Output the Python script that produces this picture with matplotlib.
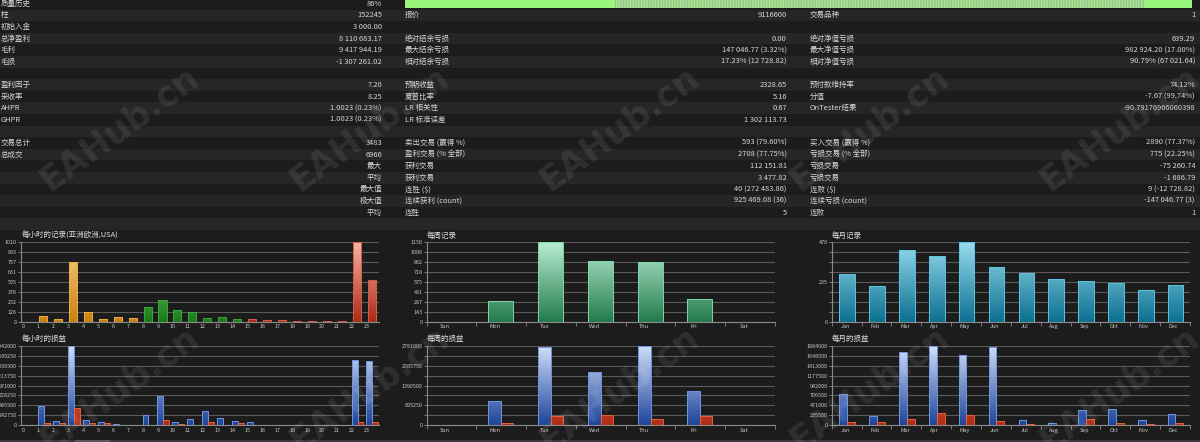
import numpy as np
import matplotlib
matplotlib.use("Agg")
import matplotlib.pyplot as plt
from matplotlib.colors import LinearSegmentedColormap
from matplotlib.patches import Rectangle

plt.rcParams['font.family'] = ['Noto Sans CJK SC', 'DejaVu Sans']

# ---------------- data ----------------
left_labels = ['质量历史', '柱', '初始入金', '总净盈利', '毛利', '毛损', '', '盈利因子', '采收率', 'AHPR', 'GHPR', '',
               '交易总计', '总成交', '', '', '', '', '']
left_values = ['86%', '152245', '3 000.00', '8 110 683.17', '9 417 944.19', '-1 307 261.02', '', '7.20', '8.25',
               '1.0023 (0.23%)', '1.0023 (0.23%)', '', '3483', '6966', '最大', '平均', '最大值', '极大值', '平均']
mid_labels = ['', '报价', '', '绝对结余亏损', '最大结余亏损', '相对结余亏损', '', '预期收益', '夏普比率', 'LR 相关性',
              'LR 标准误差', '', '卖出交易 (赢得 %)', '盈利交易 (% 全部)', '获利交易', '获利交易', '连胜 ($)',
              '连续获利 (count)', '连胜']
mid_values = ['', '9116600', '', '0.00', '147 046.77 (3.32%)', '17.23% (12 728.82)', '', '2328.65', '5.16', '0.67',
              '1 302 113.73', '', '593 (79.60%)', '2708 (77.75%)', '112 151.81', '3 477.82', '40 (272 483.86)',
              '925 469.08 (36)', '5']
right_labels = ['', '交易品种', '', '绝对净值亏损', '最大净值亏损', '相对净值亏损', '', '预付款维持率', '分值',
                'OnTester结果', '', '', '买入交易 (赢得 %)', '亏损交易 (% 全部)', '亏损交易', '亏损交易', '连败 ($)',
                '连续亏损 (count)', '连败']
right_values = ['', '1', '', '639.29', '982 924.20 (17.00%)', '90.79% (67 021.64)', '', '74.12%', '-7.67 (99.74%)',
                '-90.79176966060398', '', '', '2890 (77.37%)', '775 (22.25%)', '-75 260.74', '-1 686.79',
                '9 (-12 728.82)', '-147 046.77 (3)', '1']

hours = [str(h) for h in range(24)]
hour_session = ['asia'] * 8 + ['europe'] * 7 + ['usa'] * 9
hourly_trades = [0, 70, 30, 755, 122, 29, 59, 42, 185, 274, 143, 126, 46, 55, 29, 34, 21, 17, 8, 6, 6, 6, 1010, 526]
hourly_profit = [0, 463000, 97000, 1942000, 122000, 73000, 24000, 8000, 244000, 715000, 89000, 146000, 349000,
                 171000, 97000, 73000, 16000, 8000, 8000, 3000, 3000, 16000, 1601000, 1568000]
hourly_loss = [0, 49000, 65000, 423000, 49000, 49000, 8000, 2000, 3000, 130000, 33000, 8000, 73000, 8000, 49000,
               16000, 8000, 8000, 8000, 8000, 8000, 8000, 73000, 81000]

weekdays = ['Sun', 'Mon', 'Tue', 'Wed', 'Thu', 'Fri', 'Sat']
weekly_trades = [0, 300, 1150, 872, 862, 331, 0]
weekly_profit = [0, 849000, 2723000, 1850000, 2781000, 1210000, 0]
weekly_loss = [0, 93000, 326000, 361000, 209000, 314000, 0]

months = ['Jan', 'Feb', 'Mar', 'Apr', 'May', 'Jun', 'Jul', 'Aug', 'Sep', 'Oct', 'Nov', 'Dec']
monthly_trades = [280, 208, 425, 390, 470, 321, 286, 249, 239, 227, 188, 217]
monthly_profit = [741000, 213000, 1726000, 1884000, 1655000, 1852000, 126000, 47000, 370000, 386000, 134000, 268000]
monthly_loss = [71000, 71000, 158000, 284000, 236000, 95000, 24000, 8000, 158000, 63000, 32000, 47000]

chart_titles = ['每小时的记录(亚洲欧洲,USA)', '每周记录', '每月记录', '每小时的损益', '每周的损益', '每月的损益']
watermark = 'EAHub.cn'

# ---------------- style ----------------
W, H = 1200, 442
BG = '#1c1c1c'
STRIPE = '#262626'
TXT = '#d6d6d6'
GRID = '#5a5a5a'
AXC = '#8a8a8a'
FS = 5.4

fig = plt.figure(figsize=(12, 4.42), dpi=100, facecolor=BG)
bg = fig.add_axes([0, 0, 1, 1])
bg.set_xlim(0, W)
bg.set_ylim(H, 0)
bg.axis('off')
bg.set_zorder(0)

ROW0, ROWH = 3.8, 11.6
for i in range(20):
    yc = ROW0 + ROWH * i
    if i % 2 == 1:
        bg.add_patch(Rectangle((0, yc - ROWH / 2), W, ROWH, color=STRIPE, lw=0))

cols = [(0.5, 382, left_labels, left_values), (405, 787, mid_labels, mid_values),
        (810, 1195, right_labels, right_values)]
for lx, rx, labs, vals in cols:
    for i, (l, v) in enumerate(zip(labs, vals)):
        yc = ROW0 + ROWH * i
        if l:
            bg.text(lx, yc, l, color=TXT, fontsize=FS, ha='left', va='center')
        if v:
            bg.text(rx, yc, v, color=TXT, fontsize=FS, ha='right', va='center')

# quality history bar
bg.add_patch(Rectangle((405, 0), 787, 8, facecolor='#98f47c', lw=0))
bg.add_patch(Rectangle((615, 0), 530, 8, facecolor='none', edgecolor='#a8b8a0', hatch='||||||', lw=0))

# bottom scrollbar
bg.add_patch(Rectangle((0, 439.5), W, 2.5, color='#3a3a3a', lw=0))
bg.add_patch(Rectangle((75, 439.5), 35, 2.5, color='#5a5a5a', lw=0))


def px_rect(x0, x1, y0, y1):
    return [x0 / W, 1 - y1 / H, (x1 - x0) / W, (y1 - y0) / H]


GRAD = np.linspace(0, 1, 256).reshape(-1, 1)


def cmap(lo, hi):
    return LinearSegmentedColormap.from_list('g', [lo, hi])


def grad_bars(ax, x, h, width, cm, edge, ymax):
    bars = ax.bar(x, h, width, facecolor='none', edgecolor=edge, lw=0.7, zorder=3)
    for b in bars:
        if b.get_height() <= 0:
            b.set_visible(False)
            continue
        x0 = b.get_x()
        im = ax.imshow(GRAD, extent=(x0, x0 + b.get_width(), 0, ymax), origin='lower', cmap=cm,
                       aspect='auto', zorder=2, interpolation='bilinear')
        im.set_clip_path(b)
    return bars


def style_axis(ax, n, ymax, xlabels, xoff, label_every=1, boundary_ticks=True):
    ax.set_facecolor('none')
    ax.set_xlim(0, n)
    ax.set_ylim(0, ymax)
    ticks = np.linspace(0, ymax, 9)
    ax.set_yticks(ticks)
    ax.set_yticklabels([str(int(t)) if k % label_every == 0 else '' for k, t in enumerate(ticks)])
    ax.yaxis.grid(True, color=GRID, lw=0.8)
    ax.set_axisbelow(True)
    ax.set_xticks(np.arange(n) + xoff)
    ax.set_xticklabels(xlabels)
    ax.tick_params(axis='x', length=0, pad=2, labelsize=3.9, labelcolor='#c8c8c8')
    ax.tick_params(axis='y', length=2, width=0.6, color=AXC, pad=1, labelsize=3.9, labelcolor='#c8c8c8')
    if boundary_ticks:
        ax.set_xticks(np.arange(n + 1), minor=True)
        ax.tick_params(axis='x', which='minor', length=3, width=0.6, color=AXC)
    for s in ['top', 'right']:
        ax.spines[s].set_visible(False)
    for s in ['left', 'bottom']:
        ax.spines[s].set_color(AXC)
        ax.spines[s].set_linewidth(0.8)


TOP = (242, 321.7)
BOT = (345.7, 425.3)
XR = [(20.7, 379), (426.7, 775), (831.7, 1190)]

# hourly trades
ax = fig.add_axes(px_rect(XR[0][0], XR[0][1], *TOP))
ymax = max(hourly_trades)
sess_style = {'asia': (cmap('#c8800c', '#fad08a'), '#eeaa44'),
              'europe': (cmap('#187c18', '#94e494'), '#3aa83a'),
              'usa': (cmap('#aa2a16', '#f8b4a4'), '#d85a48')}
for s in ['asia', 'europe', 'usa']:
    idx = [i for i, ss in enumerate(hour_session) if ss == s]
    grad_bars(ax, np.array(idx) + 0.5, [hourly_trades[i] for i in idx], 0.54, sess_style[s][0], sess_style[s][1], ymax)
style_axis(ax, 24, ymax, hours, 0.19, boundary_ticks=False)

# weekly trades
ax = fig.add_axes(px_rect(XR[1][0], XR[1][1], *TOP))
ymax = max(weekly_trades)
grad_bars(ax, np.arange(7) + 0.49, weekly_trades, 0.5, cmap('#237a4c', '#b8eed2'), '#7ed6a6', ymax)
style_axis(ax, 7, ymax, weekdays, 0.37)

# monthly trades
ax = fig.add_axes(px_rect(XR[2][0], XR[2][1], *TOP))
ymax = max(monthly_trades)
grad_bars(ax, np.arange(12) + 0.52, monthly_trades, 0.52, cmap('#0c7090', '#98dcf0'), '#5cc4e4', ymax)
style_axis(ax, 12, ymax, months, 0.45, label_every=4)

BLUE = (cmap('#1e449a', '#d2e0fa'), '#6e94e2')
RED = (cmap('#b02c14', '#f49a7a'), '#e2603e')

# hourly profit/loss
ax = fig.add_axes(px_rect(XR[0][0], XR[0][1], *BOT))
ymax = max(hourly_profit)
grad_bars(ax, np.arange(24) + 0.36, hourly_profit, 0.4, BLUE[0], BLUE[1], ymax)
grad_bars(ax, np.arange(24) + 0.76, hourly_loss, 0.4, RED[0], RED[1], ymax)
style_axis(ax, 24, ymax, hours, 0.19, boundary_ticks=False)

# weekly profit/loss
ax = fig.add_axes(px_rect(XR[1][0], XR[1][1], *BOT))
ymax = max(weekly_profit)
grad_bars(ax, np.arange(7) + 0.37, weekly_profit, 0.26, BLUE[0], BLUE[1], ymax)
grad_bars(ax, np.arange(7) + 0.62, weekly_loss, 0.24, RED[0], RED[1], ymax)
style_axis(ax, 7, ymax, weekdays, 0.37, label_every=2)

# monthly profit/loss
ax = fig.add_axes(px_rect(XR[2][0], XR[2][1], *BOT))
ymax = max(monthly_profit)
grad_bars(ax, np.arange(12) + 0.385, monthly_profit, 0.25, BLUE[0], BLUE[1], ymax)
grad_bars(ax, np.arange(12) + 0.645, monthly_loss, 0.27, RED[0], RED[1], ymax)
style_axis(ax, 12, ymax, months, 0.45)

# chart titles
title_pos = [(22, 235.5), (427, 235.5), (832, 235.5), (22, 339), (427, 339), (832, 339)]
for (tx, ty), t in zip(title_pos, chart_titles):
    bg.text(tx, ty, t, color='#e0e0e0', fontsize=FS, ha='left', va='center')

# watermarks
ov = fig.add_axes([0, 0, 1, 1])
ov.set_xlim(0, W)
ov.set_ylim(H, 0)
ov.axis('off')
ov.set_zorder(10)
for wy in (128, 388):
    for wx in (120, 370, 620, 870, 1120):
        ov.text(wx, wy, watermark, color='white', alpha=0.085, fontsize=25, fontweight='bold',
                family='DejaVu Sans', rotation=36, ha='center', va='center', rotation_mode='anchor')

fig.savefig('out.png', dpi=100, facecolor=BG)
